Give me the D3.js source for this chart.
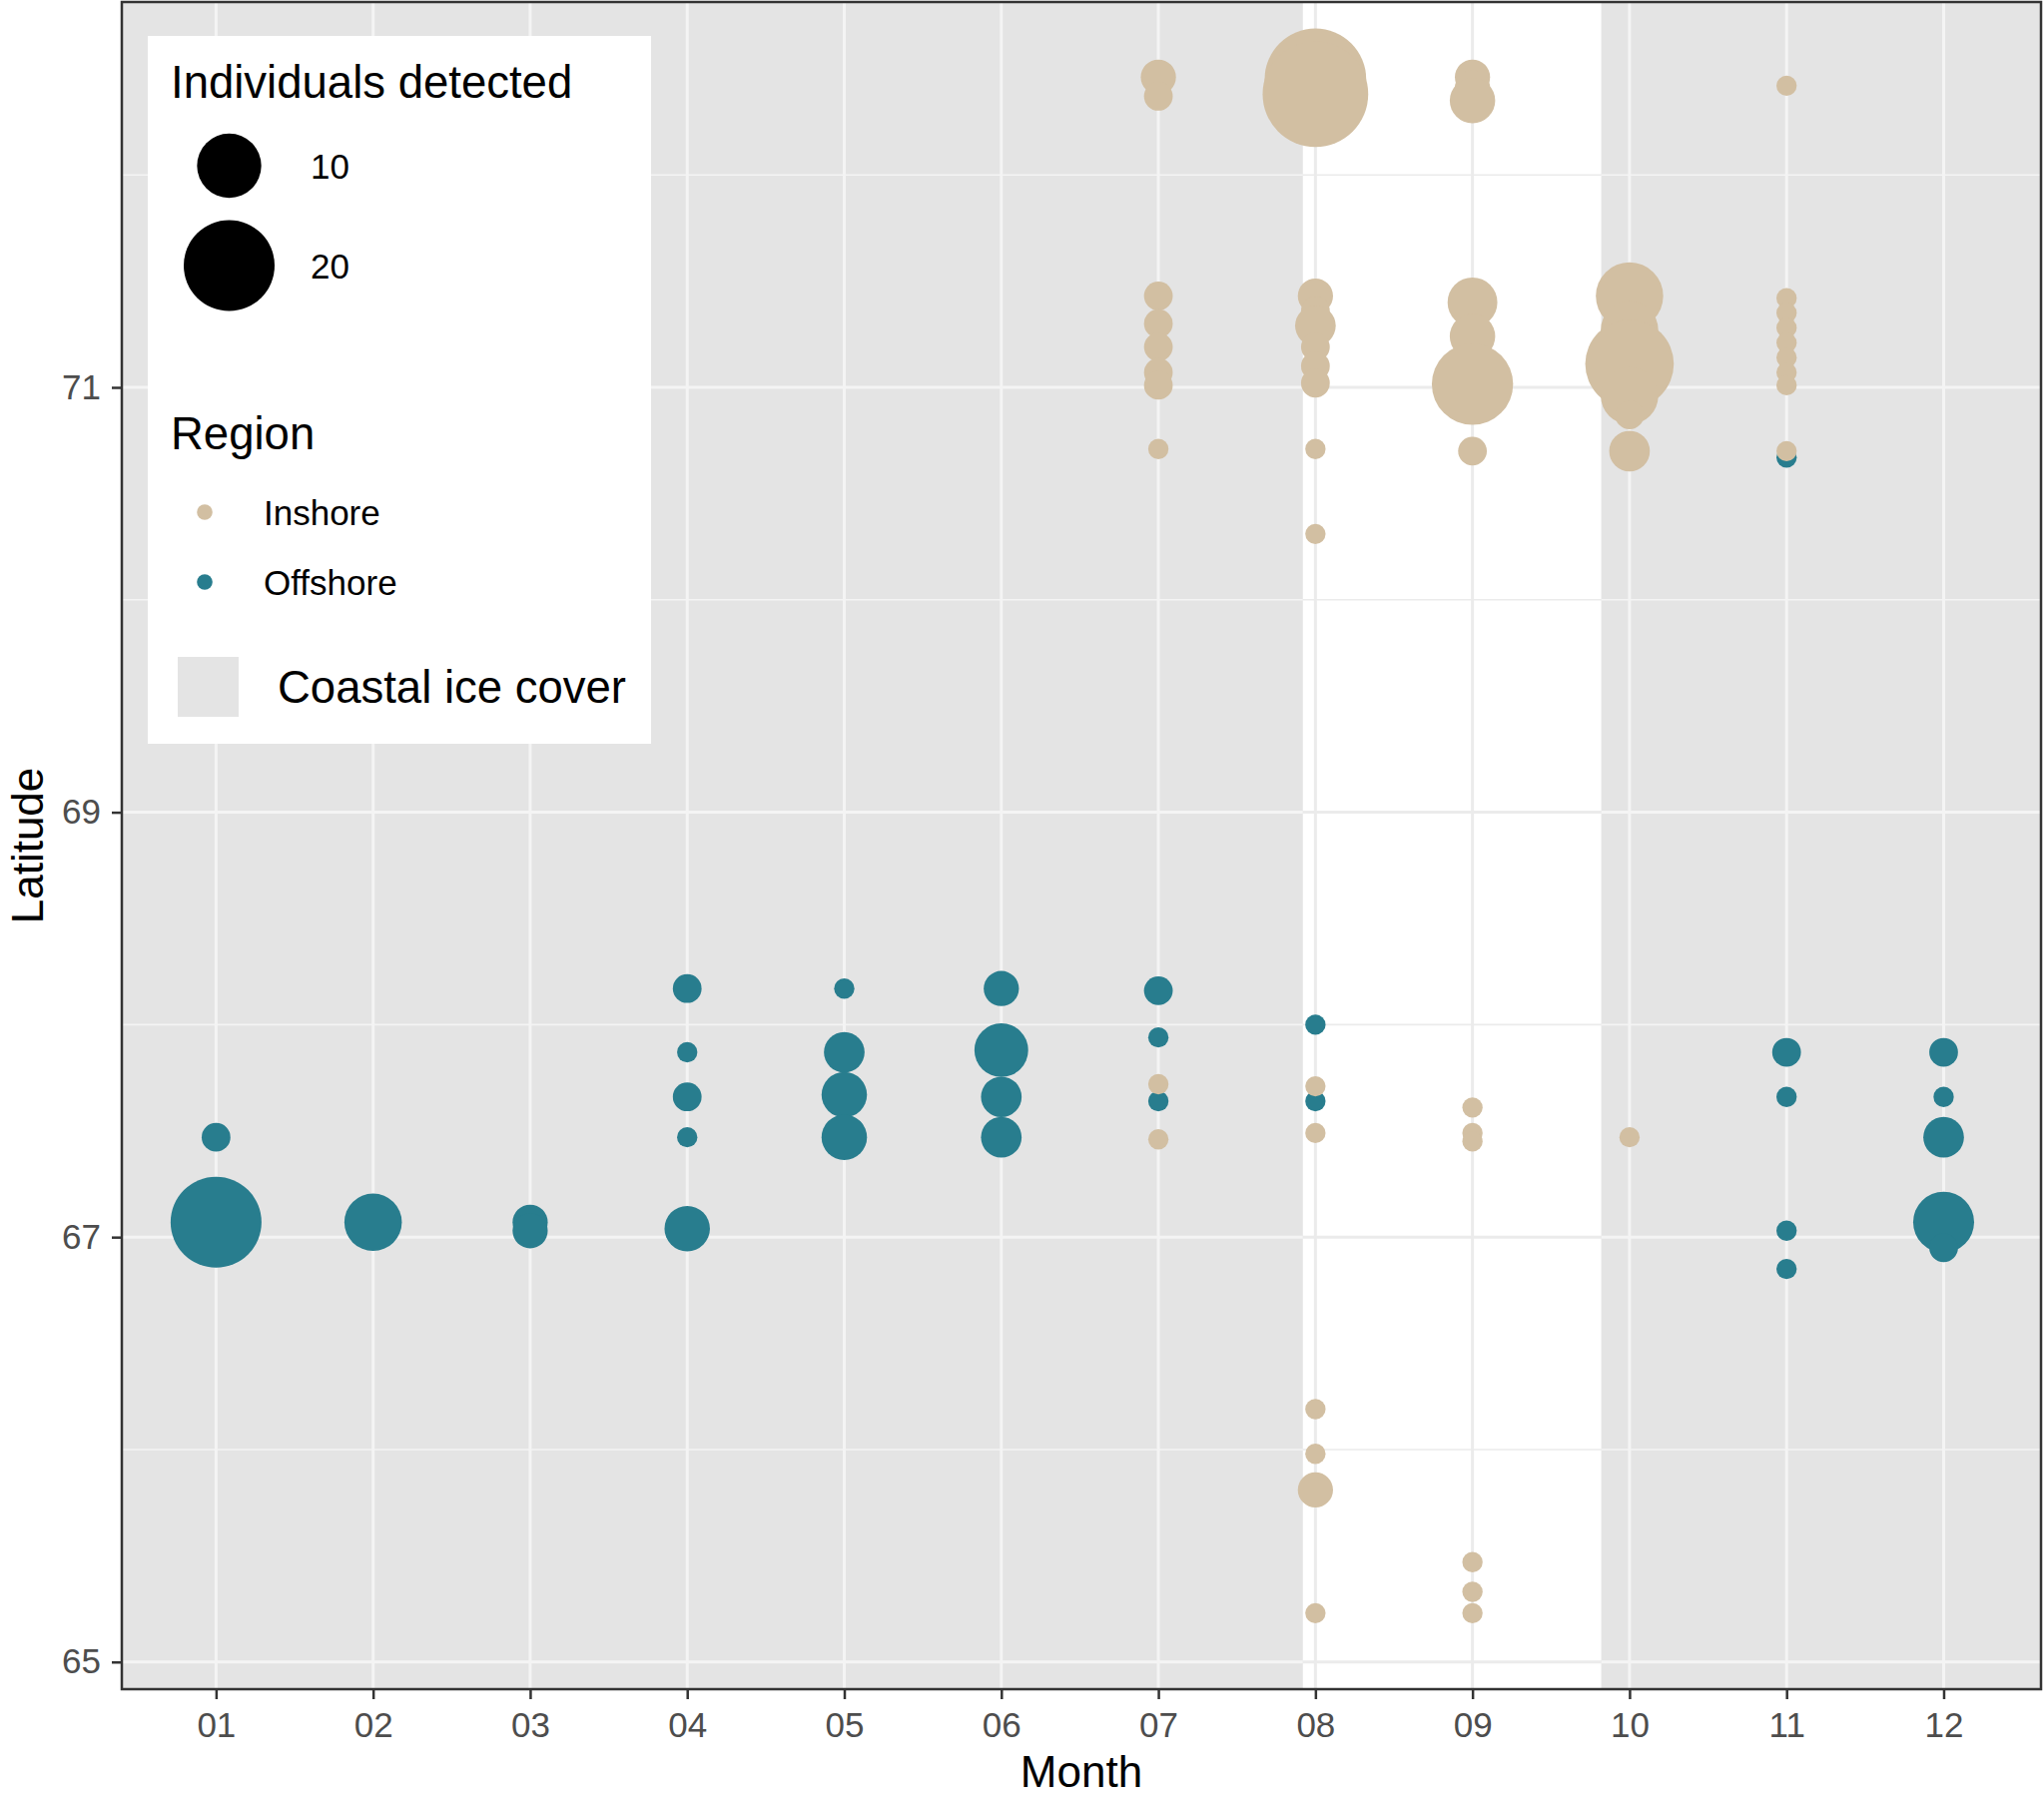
<!DOCTYPE html>
<html>
<head>
<meta charset="utf-8">
<title>Individuals detected by month and latitude</title>
<script src="https://d3js.org/d3.v7.min.js"></script>
<style>
  body { margin: 0; background: #fff; font-family: "Liberation Sans", Arial, sans-serif; }
  .tick text { font-family: "Liberation Sans", Arial, sans-serif; }
</style>
</head>
<body>
<div id="chart"></div>
<script>

// month tick labels
var monthLabels = ["01","02","03","04","05","06","07","08","09","10","11","12"];
var latTicks = [65, 67, 69, 71];
var latMinor = [66, 68, 70, 72];

// coastal ice cover periods (in month units)
var iceStart = [0.4, 9.82];
var iceEnd   = [7.92, 12.62];

// Inshore detections
var inshoreMonth = [7,7, 8,8, 9,9,9, 11,
  7,7,7,7,7,7,
  8,8,8,8,8,8,8,8,
  9,9,9,9,
  10,10,10,10,10,10,
  11,11,11,11,11,11,11,11,
  7,7, 8,8,8,8,8,8,
  9,9,9,9,9,9, 10];
var inshoreLat = [72.46,72.37, 72.45,72.38, 72.46,72.41,72.35, 72.42,
  71.43,71.30,71.19,71.07,71.01,70.71,
  71.43,71.36,71.29,71.19,71.10,71.02,70.71,70.31,
  71.40,71.24,71.015,70.70,
  71.43,71.27,71.11,70.96,70.87,70.70,
  71.42,71.35,71.28,71.21,71.14,71.07,71.01,70.70,
  67.72,67.46, 67.71,67.49,66.19,65.98,65.81,65.23,
  67.61,67.49,67.45,65.47,65.33,65.23, 67.47];
var inshoreN = [3,2, 25,27, 3,3,5, 1,
  2,2,2,2,2,1,
  3,2,4,2,2,2,1,1,
  6,5,16,2,
  11,8,19,8,2,4,
  1,1,1,1,1,1,1,1,
  1,1, 1,1,1,1,3,1,
  1,1,1,1,1,1, 1];

// Offshore detections
var offshoreMonth = [1,1, 2, 3,3, 4,4,4,4,4, 5,5,5,5, 6,6,6,6,
  7,7,7, 8,8, 11,11,11,11,11, 12,12,12,12,12];
var offshoreLat = [67.47,67.07, 67.07, 67.07,67.03,
  68.17,67.87,67.66,67.47,67.04,
  68.17,67.87,67.67,67.47,
  68.17,67.88,67.66,67.47,
  68.16,67.94,67.64, 68.00,67.64,
  70.67,67.87,67.66,67.03,66.85,
  67.87,67.66,67.47,67.07,66.95];
var offshoreN = [2,20, 8, 3,3, 2,1,2,1,5, 1,4,5,5, 3,7,4,4,
  2,1,1, 1,1, 1,2,1,1,1, 2,1,4,9,2];

var regionNames = ["Inshore", "Offshore"];
var regionColors = ["#d2bfa2", "#287d8e"];
var sizeLegend = [10, 20];

var W = 2047, H = 1798;
var panel = {left: 122, right: 2044, top: 2, bottom: 1692};

var svg = d3.select("#chart").append("svg")
  .attr("width", W).attr("height", H)
  .style("font-family", "'Liberation Sans', Arial, sans-serif");

var x = d3.scaleLinear().domain([0.4, 12.62]).range([panel.left, panel.right]);
var y = d3.scaleLinear().domain([64.872, 72.814]).range([panel.bottom, panel.top]);
var r = d3.scaleSqrt().domain([0, 20]).range([0, 45.5]);
var color = d3.scaleOrdinal().domain(regionNames).range(regionColors);

// panel background
svg.append("rect")
  .attr("x", panel.left).attr("y", panel.top)
  .attr("width", panel.right - panel.left).attr("height", panel.bottom - panel.top)
  .attr("fill", "#fff");

function drawGrid(g, col) {
  g.selectAll(".minor").data(latMinor).enter().append("line")
    .attr("x1", panel.left).attr("x2", panel.right)
    .attr("y1", function(d){ return y(d); }).attr("y2", function(d){ return y(d); })
    .attr("stroke", col).attr("stroke-width", 1.6);
  g.selectAll(".major").data(latTicks).enter().append("line")
    .attr("x1", panel.left).attr("x2", panel.right)
    .attr("y1", function(d){ return y(d); }).attr("y2", function(d){ return y(d); })
    .attr("stroke", col).attr("stroke-width", 3);
  g.selectAll(".vert").data(monthLabels).enter().append("line")
    .attr("x1", function(d, i){ return x(i + 1); }).attr("x2", function(d, i){ return x(i + 1); })
    .attr("y1", panel.top).attr("y2", panel.bottom)
    .attr("stroke", col).attr("stroke-width", 3);
}

drawGrid(svg.append("g"), "#ebebeb");

// ice cover rects
var defs = svg.append("defs");
var clip = defs.append("clipPath").attr("id", "iceclip");
iceStart.forEach(function(s, i) {
  clip.append("rect")
    .attr("x", x(s)).attr("y", panel.top)
    .attr("width", x(iceEnd[i]) - x(s)).attr("height", panel.bottom - panel.top);
});

svg.append("g").selectAll("rect").data(iceStart).enter().append("rect")
  .attr("x", function(d){ return x(d); })
  .attr("y", panel.top)
  .attr("width", function(d, i){ return x(iceEnd[i]) - x(d); })
  .attr("height", panel.bottom - panel.top)
  .attr("fill", "#e4e4e4");

// lighter grid on top of the grey
drawGrid(svg.append("g").attr("clip-path", "url(#iceclip)"), "#f4f4f4");

// points
function drawPoints(months, lats, ns, region) {
  svg.append("g").selectAll("circle").data(months).enter().append("circle")
    .attr("cx", function(d){ return x(d); })
    .attr("cy", function(d, i){ return y(lats[i]); })
    .attr("r", function(d, i){ return r(ns[i]); })
    .attr("fill", color(region));
}
drawPoints(offshoreMonth, offshoreLat, offshoreN, "Offshore");
drawPoints(inshoreMonth, inshoreLat, inshoreN, "Inshore");

// panel border
svg.append("rect")
  .attr("x", panel.left).attr("y", panel.top)
  .attr("width", panel.right - panel.left).attr("height", panel.bottom - panel.top)
  .attr("fill", "none").attr("stroke", "#333").attr("stroke-width", 2.5);

// axes
var xAxis = svg.append("g")
  .attr("transform", "translate(0," + panel.bottom + ")")
  .call(d3.axisBottom(x).tickValues(d3.range(1, 13))
    .tickFormat(function(d){ return monthLabels[d - 1]; })
    .tickSize(10).tickPadding(13));
var yAxis = svg.append("g")
  .attr("transform", "translate(" + panel.left + ",0)")
  .call(d3.axisLeft(y).tickValues(latTicks).tickSize(10).tickPadding(11));

[xAxis, yAxis].forEach(function(a) {
  a.select(".domain").remove();
  a.selectAll(".tick line").attr("stroke", "#333").attr("stroke-width", 2.5);
  a.selectAll(".tick text").attr("fill", "#4d4d4d").style("font-size", "35px");
});

svg.append("text")
  .attr("x", (panel.left + panel.right) / 2).attr("y", 1790)
  .attr("text-anchor", "middle").style("font-size", "44px").attr("fill", "#000")
  .text("Month");
svg.append("text")
  .attr("transform", "translate(43," + (panel.top + panel.bottom) / 2 + ") rotate(-90)")
  .attr("text-anchor", "middle").style("font-size", "44px").attr("fill", "#000")
  .text("Latitude");

// legend
var leg = svg.append("g");
leg.append("rect").attr("x", 148).attr("y", 36).attr("width", 504).attr("height", 709).attr("fill", "#fff");
leg.append("text").attr("x", 171).attr("y", 98).style("font-size", "45.5px").text("Individuals detected");

var sizeY = [166, 266];
leg.selectAll(".sz").data(sizeLegend).enter().append("circle")
  .attr("cx", 229.5).attr("cy", function(d, i){ return sizeY[i]; })
  .attr("r", function(d){ return r(d); }).attr("fill", "#000");
leg.selectAll(".szt").data(sizeLegend).enter().append("text")
  .attr("x", 311).attr("y", function(d, i){ return sizeY[i] + 13; })
  .style("font-size", "35px").text(function(d){ return d; });

leg.append("text").attr("x", 171).attr("y", 450).style("font-size", "45.5px").text("Region");
var regY = [513, 583];
leg.selectAll(".rg").data(regionNames).enter().append("circle")
  .attr("cx", 205).attr("cy", function(d, i){ return regY[i]; })
  .attr("r", 7.8).attr("fill", function(d){ return color(d); });
leg.selectAll(".rgt").data(regionNames).enter().append("text")
  .attr("x", 264).attr("y", function(d, i){ return regY[i] + 13; })
  .style("font-size", "35px").text(function(d){ return d; });

leg.append("rect").attr("x", 178).attr("y", 658).attr("width", 61).attr("height", 60).attr("fill", "#e4e4e4");
leg.append("text").attr("x", 278).attr("y", 704).style("font-size", "45.5px").text("Coastal ice cover");

</script>
</body>
</html>
